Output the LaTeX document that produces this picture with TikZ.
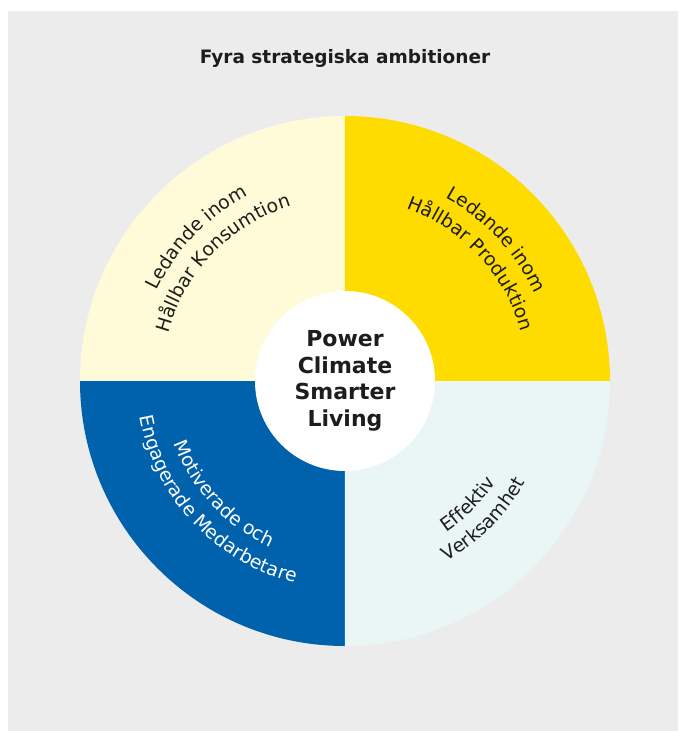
\documentclass[tikz,border=0pt]{standalone}
\usepackage{fontspec}
\setmainfont{DejaVu Sans}
\usetikzlibrary{decorations.text}
\definecolor{bggray}{HTML}{ECECEC}
\definecolor{paleyellow}{HTML}{FFFAD7}
\definecolor{sunyellow}{HTML}{FFDC00}
\definecolor{deepblue}{HTML}{0061AD}
\definecolor{paleice}{HTML}{EAF5F5}
\definecolor{inkblack}{HTML}{1D1D1B}
\newcommand{\labelfont}{\fontsize{18.8}{22}\selectfont}

\begin{document}
\begin{tikzpicture}[x=1pt, y=1pt,
  quarter/.style = {fill=#1},
  arclabel/.style = {decorate, decoration={text along path, text align=center,
      text color=inkblack, text={|\labelfont|#1}}},
  whitelabel/.style = {decoration={text color=white}}]
\useasboundingbox (-345,-350) rectangle (333,381);
\fill[bggray] (-337,-350) rectangle (333,370);

\node[font=\bfseries\fontsize{18.5}{22}\selectfont, text=inkblack, anchor=base] (title) at (0,317) {Fyra strategiska ambitioner};

\fill[quarter=paleyellow] (0,0) -- (180:265) arc[start angle=180, end angle=90, radius=265] -- cycle;
\fill[quarter=sunyellow] (0,0) -- (90:265) arc[start angle=90, end angle=0, radius=265] -- cycle;
\fill[quarter=deepblue] (0,0) -- (180:265) arc[start angle=180, end angle=270, radius=265] -- cycle;
\fill[quarter=paleice] (0,0) -- (270:265) arc[start angle=270, end angle=360, radius=265] -- cycle;

\path[arclabel={Ledande inom}] (181:209) arc[start angle=181, end angle=91, radius=209];
\path[arclabel={Hållbar Konsumtion}] (181:183) arc[start angle=181, end angle=91, radius=183];
\path[arclabel={Ledande inom}] (88:209) arc[start angle=88, end angle=-2, radius=209];
\path[arclabel={Hållbar Produktion}] (88:183) arc[start angle=88, end angle=-2, radius=183];
\path[arclabel={Motiverade och}, whitelabel] (178:182) arc[start angle=178, end angle=268, radius=182];
\path[arclabel={Engagerade Medarbetare}, whitelabel] (178:208) arc[start angle=178, end angle=268, radius=208];
\path[arclabel={Effektiv}] (270:182) arc[start angle=270, end angle=360, radius=182];
\path[arclabel={Verksamhet}] (270:207) arc[start angle=270, end angle=360, radius=207];

\node[circle, fill=white, minimum size=180pt, inner sep=0pt, align=center, text=inkblack,
  font=\bfseries\fontsize{22}{26.7}\selectfont] (hub) at (0,0) {Power\\Climate\\Smarter\\Living};
\end{tikzpicture}
\end{document}
